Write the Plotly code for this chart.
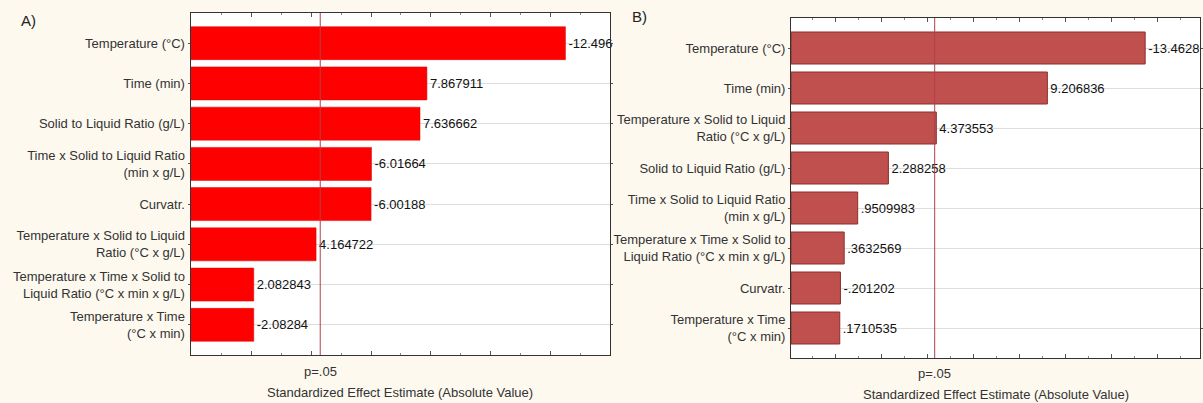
import plotly.graph_objects as go

# ---------------- data ----------------
labels_a = [
    "Temperature (°C)",
    "Time (min)",
    "Solid to Liquid Ratio (g/L)",
    "Time x Solid to Liquid Ratio<br>(min x g/L)",
    "Curvatr.",
    "Temperature x Solid to Liquid<br>Ratio (°C x g/L)",
    "Temperature x Time x Solid to<br>Liquid Ratio (°C x min x g/L)",
    "Temperature x Time<br>(°C x min)",
]
effects_a = [-12.496, 7.867911, 7.636662, -6.01664, -6.00188, 4.164722, 2.082843, -2.08284]

labels_b = [
    "Temperature (°C)",
    "Time (min)",
    "Temperature x Solid to Liquid<br>Ratio (°C x g/L)",
    "Solid to Liquid Ratio (g/L)",
    "Time x Solid to Liquid Ratio<br>(min x g/L)",
    "Temperature x Time x Solid to<br>Liquid Ratio (°C x min x g/L)",
    "Curvatr.",
    "Temperature x Time<br>(°C x min)",
]
effects_b = [-13.4628, 9.206836, 4.373553, 2.288258, 0.9509983, 0.3632569, -0.201202, 0.1710535]

p_crit = 4.303  # t critical value at p = .05
p_label = "p=.05"
x_title = "Standardized Effect Estimate (Absolute Value)"

# ---------------- helpers ----------------
W, H = 1203, 403
FONT = "Liberation Sans, Arial, sans-serif"


def fmt(v):
    s = ("%.6g" % v) if v < 0 else ("%.7g" % v)
    if s.startswith("-0."):
        return "-" + s[2:]
    if s.startswith("0."):
        return s[1:]
    return s


def px_x(px):
    return px / W


def px_y(py):
    return 1 - py / H


xr_a = [-0.03, 14.0]
xr_b = [-1.95, 15.85]

fig = go.Figure()

fig.add_trace(go.Bar(
    y=labels_a, x=[abs(v) - xr_a[0] for v in effects_a], base=xr_a[0],
    orientation="h", xaxis="x", yaxis="y", width=0.82,
    marker=dict(color="#ff0000", line=dict(color="#d80000", width=0.5)),
    text=[fmt(v) for v in effects_a], textposition="outside", cliponaxis=False,
    textfont=dict(family=FONT, size=13, color="#111111"),
    hoverinfo="skip", showlegend=False,
))
fig.add_trace(go.Bar(
    y=labels_b, x=[abs(v) - xr_b[0] for v in effects_b], base=xr_b[0],
    orientation="h", xaxis="x2", yaxis="y2", width=0.8,
    marker=dict(color="#c0504d", line=dict(color="#8a2f2c", width=1)),
    text=[fmt(v) for v in effects_b], textposition="outside", cliponaxis=False,
    textfont=dict(family=FONT, size=13, color="#111111"),
    hoverinfo="skip", showlegend=False,
))

axis_common = dict(
    showline=True, linecolor="#333333", linewidth=1, mirror="ticks",
    zeroline=False, fixedrange=True,
)
fig.update_layout(
    width=W, height=H,
    margin=dict(l=0, r=0, t=0, b=0),
    paper_bgcolor="#fdf9ef", plot_bgcolor="#ffffff",
    font=dict(family=FONT, size=13, color="#333333"),
    xaxis=dict(domain=[px_x(191), px_x(612)], range=xr_a, anchor="y",
               ticks="inside", ticklen=4, tickcolor="#555555", dtick=2, tick0=0,
               showticklabels=False, showgrid=False,
               minor=dict(ticks="inside", ticklen=2, dtick=1, tickcolor="#888888"),
               **axis_common),
    yaxis=dict(domain=[px_y(355), px_y(13)], anchor="x",
               categoryorder="array", categoryarray=labels_a, range=[7.75, -0.75],
               ticks="outside", ticklen=2, tickcolor="#555555",
               showgrid=True, gridcolor="#dddddd", gridwidth=1,
               **axis_common),
    xaxis2=dict(domain=[px_x(793), 1.0], range=xr_b, anchor="y2",
                ticks="inside", ticklen=4, tickcolor="#555555", dtick=2, tick0=0,
                showticklabels=False, showgrid=False,
                minor=dict(ticks="inside", ticklen=2, dtick=1, tickcolor="#888888"),
                **axis_common),
    yaxis2=dict(domain=[px_y(358), px_y(18)], anchor="x2",
                categoryorder="array", categoryarray=labels_b, range=[7.75, -0.75],
                ticks="outside", ticklen=2, tickcolor="#555555",
                showgrid=True, gridcolor="#dddddd", gridwidth=1,
                **axis_common),
)

# p = .05 reference lines
fig.add_shape(type="line", xref="x", yref="y domain", x0=p_crit, x1=p_crit, y0=0, y1=1,
              line=dict(color="#b0404a", width=1))
fig.add_shape(type="line", xref="x2", yref="y2 domain", x0=p_crit, x1=p_crit, y0=0, y1=1,
              line=dict(color="#b0404a", width=1))

ann_font = dict(family=FONT, size=13, color="#333333")
fig.add_annotation(x=p_crit, xref="x", y=px_y(371), yref="paper", text=p_label,
                   showarrow=False, font=ann_font, xanchor="center", yanchor="middle")
fig.add_annotation(x=p_crit, xref="x2", y=px_y(373), yref="paper", text=p_label,
                   showarrow=False, font=ann_font, xanchor="center", yanchor="middle")
fig.add_annotation(x=0.5, xref="x domain", y=px_y(392), yref="paper", text=x_title,
                   showarrow=False, font=ann_font, xanchor="center", yanchor="middle")
fig.add_annotation(x=0.5, xref="x2 domain", y=px_y(394), yref="paper", text=x_title,
                   showarrow=False, font=ann_font, xanchor="center", yanchor="middle")

fig.add_annotation(x=px_x(19), xref="paper", y=px_y(20), yref="paper", text="A)",
                   showarrow=False, xanchor="left", yanchor="middle",
                   font=dict(family=FONT, size=15, color="#222222"))
fig.add_annotation(x=px_x(632), xref="paper", y=px_y(17), yref="paper", text="B)",
                   showarrow=False, xanchor="left", yanchor="middle",
                   font=dict(family=FONT, size=15, color="#222222"))

fig.write_html(
    "out.html",
    config={"displayModeBar": False, "staticPlot": True},
    post_script="document.body.style.margin='0px';document.body.style.padding='0px';"
                "document.body.style.overflow='hidden';",
)
